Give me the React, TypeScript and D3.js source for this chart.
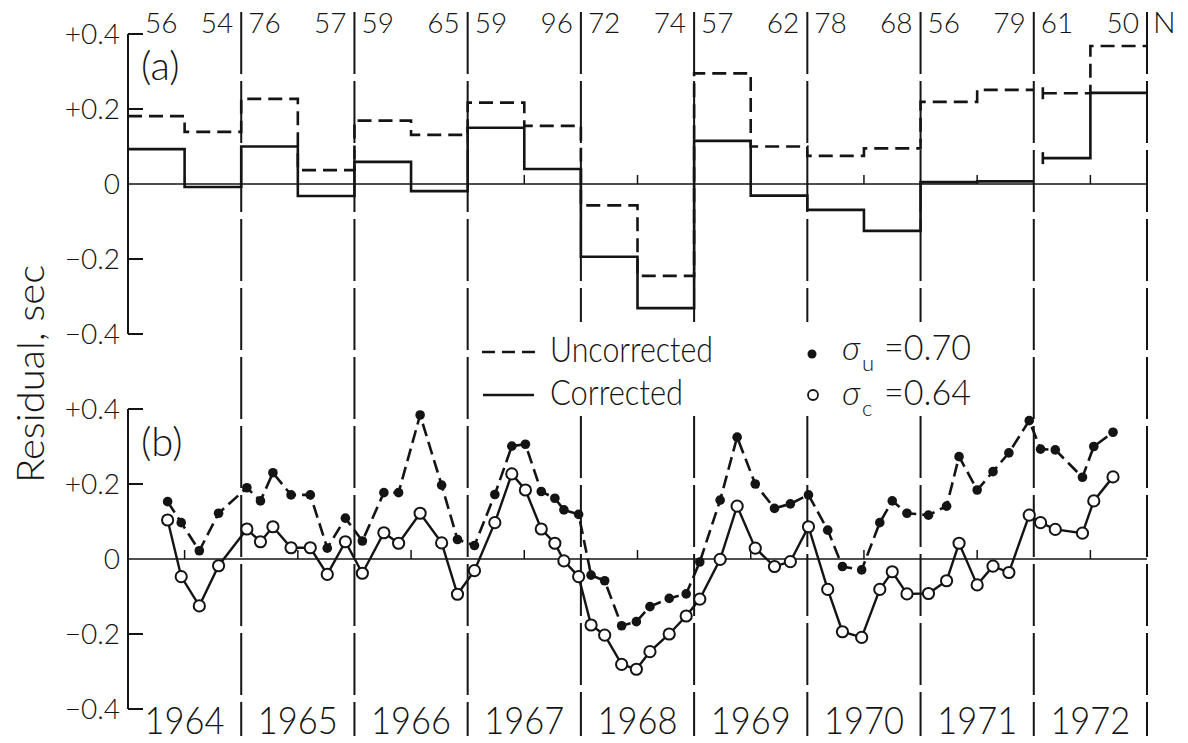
import { useEffect, useRef } from 'react';
import * as d3 from 'd3';

// Year boundaries along the time axis
const years = [1964, 1965, 1966, 1967, 1968, 1969, 1970, 1971, 1972];

// Panel (a): half-year means
const halfYearStarts = [1964, 1964.5, 1965, 1965.5, 1966, 1966.5, 1967, 1967.5, 1968, 1968.5,
  1969, 1969.5, 1970, 1970.5, 1971, 1971.5, 1972.08, 1972.5];
const nCounts = [56, 54, 76, 57, 59, 65, 59, 96, 72, 74, 57, 62, 78, 68, 56, 79, 61, 50];
const uncorrectedA = [0.181, 0.139, 0.227, 0.037, 0.169, 0.131, 0.217, 0.155, -0.057, -0.245,
  0.295, 0.100, 0.075, 0.095, 0.219, 0.251, 0.242, 0.368];
const correctedA = [0.093, -0.008, 0.100, -0.032, 0.059, -0.019, 0.150, 0.040, -0.194, -0.331,
  0.115, -0.031, -0.069, -0.125, 0.005, 0.007, 0.069, 0.243];

// Panel (b): individual residuals
const sampleTimes = [
  1964.35, 1964.47, 1964.63, 1964.80,
  1965.05, 1965.17, 1965.28, 1965.44, 1965.61, 1965.76, 1965.92,
  1966.07, 1966.26, 1966.39, 1966.58, 1966.77, 1966.91,
  1967.06, 1967.24, 1967.39, 1967.51, 1967.65, 1967.77, 1967.85, 1967.98,
  1968.09, 1968.21, 1968.36, 1968.49, 1968.61, 1968.78, 1968.93,
  1969.05, 1969.23, 1969.38, 1969.54, 1969.71, 1969.85,
  1970.01, 1970.18, 1970.31, 1970.48, 1970.64, 1970.75, 1970.88,
  1971.07, 1971.23, 1971.34, 1971.50, 1971.64, 1971.78, 1971.96,
  1972.06, 1972.19, 1972.43, 1972.53, 1972.70,
];
const uncorrectedB = [
  0.153, 0.097, 0.022, 0.122,
  0.190, 0.155, 0.230, 0.171, 0.171, 0.029, 0.109,
  0.048, 0.177, 0.177, 0.384, 0.197, 0.052,
  0.036, 0.172, 0.301, 0.306, 0.180, 0.162, 0.131, 0.119,
  -0.043, -0.058, -0.178, -0.167, -0.127, -0.105, -0.093,
  -0.008, 0.157, 0.325, 0.200, 0.135, 0.147,
  0.171, 0.077, -0.020, -0.029, 0.097, 0.155, 0.122,
  0.117, 0.141, 0.273, 0.184, 0.233, 0.283, 0.369,
  0.293, 0.291, 0.218, 0.300, 0.338,
];
const correctedB = [
  0.104, -0.047, -0.125, -0.018,
  0.080, 0.046, 0.086, 0.030, 0.030, -0.041, 0.046,
  -0.038, 0.070, 0.042, 0.122, 0.043, -0.094,
  -0.031, 0.097, 0.227, 0.184, 0.080, 0.042, -0.005, -0.047,
  -0.176, -0.203, -0.281, -0.294, -0.247, -0.200, -0.152,
  -0.107, -0.001, 0.141, 0.029, -0.020, -0.007,
  0.086, -0.081, -0.194, -0.209, -0.081, -0.034, -0.093,
  -0.092, -0.058, 0.042, -0.069, -0.019, -0.036, 0.117,
  0.097, 0.079, 0.069, 0.155, 0.219,
];

const yTicks = [0.4, 0.2, 0, -0.2, -0.4];
const yTickLabels = ['+0.4', '+0.2', '0', '\u22120.2', '\u22120.4'];

const INK = '#141414';
const FONT = "Lato, 'Open Sans', sans-serif";

export default function App() {
  const svgRef = useRef<SVGSVGElement>(null);
  const width = 1188;
  const height = 743;

  useEffect(() => {
    if (!svgRef.current) return;
    const svg = d3.select(svgRef.current);
    svg.selectAll('*').remove();

    const x = d3.scaleLinear().domain([1964, 1973]).range([128, 1147]);
    const yA = d3.scaleLinear().domain([-0.4, 0.4]).range([334, 34]);
    const yB = d3.scaleLinear().domain([-0.4, 0.4]).range([709, 409]);

    svg.append('rect').attr('width', width).attr('height', height).attr('fill', '#fff');

    // Year boundary lines (interrupted behind the legend)
    const gapTop = 322;
    const gapBottom = 416;
    [...years.slice(1), 1973].forEach(yr => {
      const xx = x(yr);
      const segs = xx > 475 && xx < 1000 ? [[12, gapTop], [gapBottom, 736]] : [[12, 736]];
      segs.forEach(([a, b]) => {
        svg.append('line')
          .attr('x1', xx).attr('x2', xx).attr('y1', a).attr('y2', b)
          .attr('stroke', INK).attr('stroke-width', 2)
          .attr('stroke-dasharray', '62 7');
      });
    });

    // Axes for each panel
    [yA, yB].forEach((y, pi) => {
      const g = svg.append('g');
      g.append('line')
        .attr('x1', x(1964)).attr('x2', x(1964))
        .attr('y1', y(0.4)).attr('y2', y(-0.4))
        .attr('stroke', INK).attr('stroke-width', 2);
      yTicks.forEach((t, i) => {
        if (t !== 0) {
          g.append('line')
            .attr('x1', x(1964)).attr('x2', x(1964) + 15)
            .attr('y1', y(t)).attr('y2', y(t))
            .attr('stroke', INK).attr('stroke-width', 2);
        }
        g.append('text')
          .attr('x', 120).attr('y', y(t) + 10)
          .attr('text-anchor', 'end')
          .attr('font-size', 28).attr('font-weight', 300)
          .attr('fill', INK).style('font-family', FONT)
          .text(yTickLabels[i]);
      });
      // zero line
      g.append('line')
        .attr('x1', x(1964)).attr('x2', x(1973))
        .attr('y1', y(0)).attr('y2', y(0))
        .attr('stroke', INK).attr('stroke-width', 1.5);
      // half-year ticks
      years.forEach(yr => {
        g.append('line')
          .attr('x1', x(yr + 0.5)).attr('x2', x(yr + 0.5))
          .attr('y1', y(0)).attr('y2', y(0) - 9)
          .attr('stroke', INK).attr('stroke-width', 1.5);
      });
      g.append('text')
        .attr('x', 141).attr('y', pi === 0 ? 80 : 456)
        .attr('font-size', 40).attr('font-weight', 300)
        .attr('fill', INK).style('font-family', FONT)
        .text(pi === 0 ? '(a)' : '(b)');
    });

    // Panel (a) steps
    const stepLine = d3.line<[number, number]>()
      .x(d => x(d[0])).y(d => yA(d[1]))
      .curve(d3.curveStepAfter);
    const split = 16; // 1972 begins a separate run
    const stepRuns = (vals: number[]) => {
      const first: [number, number][] = halfYearStarts.slice(0, split).map((t, i) => [t, vals[i]]);
      first.push([1972, vals[split - 1]]);
      const second: [number, number][] = halfYearStarts.slice(split).map((t, i) => [t, vals[split + i]]);
      second.push([1973, vals[vals.length - 1]]);
      return [first, second];
    };
    [[uncorrectedA, '14 7'], [correctedA, null]].forEach(([vals, dash]) => {
      const runs = stepRuns(vals as number[]);
      runs.forEach(run => {
        svg.append('path')
          .attr('d', stepLine(run))
          .attr('fill', 'none').attr('stroke', INK).attr('stroke-width', 2.6)
          .attr('stroke-dasharray', dash as string | null);
      });
      const v = (vals as number[])[split];
      svg.append('line')
        .attr('x1', x(halfYearStarts[split])).attr('x2', x(halfYearStarts[split]))
        .attr('y1', yA(v) - 6).attr('y2', yA(v) + 6)
        .attr('stroke', INK).attr('stroke-width', 2.6);
    });

    // N counts
    nCounts.forEach((n, i) => {
      const isFirst = i % 2 === 0;
      const yr = years[Math.floor(i / 2)];
      svg.append('text')
        .attr('x', isFirst ? x(yr) + (i === 0 ? 17 : 7) : x(yr + 1) - 8)
        .attr('y', 33)
        .attr('text-anchor', isFirst ? 'start' : 'end')
        .attr('font-size', 28).attr('font-weight', 300)
        .attr('fill', INK).style('font-family', FONT)
        .text(n);
    });
    svg.append('text')
      .attr('x', 1153).attr('y', 33)
      .attr('font-size', 30).attr('font-weight', 300)
      .attr('fill', INK).style('font-family', FONT)
      .text('N');

    // Panel (b) series
    const seriesLine = d3.line<number>()
      .x((_, i) => x(sampleTimes[i])).y(d => yB(d));
    svg.append('path')
      .attr('d', seriesLine(uncorrectedB))
      .attr('fill', 'none').attr('stroke', INK).attr('stroke-width', 2.6)
      .attr('stroke-dasharray', '13 6');
    svg.append('path')
      .attr('d', seriesLine(correctedB))
      .attr('fill', 'none').attr('stroke', INK).attr('stroke-width', 2.4);
    uncorrectedB.forEach((v, i) => {
      svg.append('circle')
        .attr('cx', x(sampleTimes[i])).attr('cy', yB(v)).attr('r', 4.8)
        .attr('fill', INK);
    });
    correctedB.forEach((v, i) => {
      svg.append('circle')
        .attr('cx', x(sampleTimes[i])).attr('cy', yB(v)).attr('r', 5.6)
        .attr('fill', '#fff').attr('stroke', INK).attr('stroke-width', 2);
    });

    // Year labels
    years.forEach(yr => {
      svg.append('text')
        .attr('x', x(yr + 0.5)).attr('y', 734)
        .attr('text-anchor', 'middle')
        .attr('font-size', 38).attr('font-weight', 300)
        .attr('textLength', 80).attr('lengthAdjust', 'spacingAndGlyphs')
        .attr('fill', INK).style('font-family', FONT)
        .text(yr);
    });

    // Y axis title
    svg.append('text')
      .attr('transform', 'translate(44, 374) rotate(-90)')
      .attr('text-anchor', 'middle')
      .attr('font-size', 38).attr('font-weight', 300)
      .attr('textLength', 218).attr('lengthAdjust', 'spacingAndGlyphs')
      .attr('fill', INK).style('font-family', FONT)
      .text('Residual, sec');

    // Legend
    const legend = svg.append('g');
    legend.append('line')
      .attr('x1', 482).attr('x2', 536).attr('y1', 352).attr('y2', 352)
      .attr('stroke', INK).attr('stroke-width', 2.4).attr('stroke-dasharray', '13 7');
    legend.append('line')
      .attr('x1', 483).attr('x2', 534).attr('y1', 395).attr('y2', 395)
      .attr('stroke', INK).attr('stroke-width', 2.4);
    [['Uncorrected', 362, 163], ['Corrected', 405, 133]].forEach(([label, yy, len]) => {
      legend.append('text')
        .attr('x', 550).attr('y', yy as number)
        .attr('font-size', 35).attr('font-weight', 300)
        .attr('textLength', len as number).attr('lengthAdjust', 'spacingAndGlyphs')
        .attr('fill', INK).style('font-family', FONT)
        .text(label as string);
    });
    legend.append('circle').attr('cx', 812).attr('cy', 354).attr('r', 4.5).attr('fill', INK);
    legend.append('circle').attr('cx', 813).attr('cy', 395).attr('r', 5)
      .attr('fill', '#fff').attr('stroke', INK).attr('stroke-width', 1.8);
    [['u', '=0.70', 360], ['c', '=0.64', 405]].forEach(([sub, val, yy]) => {
      const base = yy as number;
      legend.append('text')
        .attr('x', 842).attr('y', base)
        .attr('font-size', 34).attr('font-style', 'italic').attr('font-weight', 300)
        .attr('fill', INK).style('font-family', FONT)
        .text('\u03c3');
      legend.append('text')
        .attr('x', 862).attr('y', base + 11)
        .attr('font-size', 22).attr('font-weight', 300)
        .attr('fill', INK).style('font-family', FONT)
        .text(sub as string);
      legend.append('text')
        .attr('x', 884).attr('y', base)
        .attr('font-size', 35).attr('font-weight', 300)
        .attr('textLength', 87).attr('lengthAdjust', 'spacingAndGlyphs')
        .attr('fill', INK).style('font-family', FONT)
        .text(val as string);
    });
  }, []);

  return (
    <svg
      ref={svgRef}
      width={width}
      height={height}
      style={{ position: 'absolute', left: 0, top: 0, display: 'block' }}
    />
  );
}
